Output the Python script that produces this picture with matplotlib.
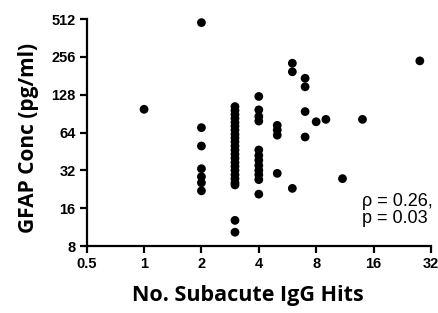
import matplotlib
matplotlib.use("Agg")
import matplotlib.pyplot as plt
from matplotlib.ticker import FixedLocator, FixedFormatter, NullLocator

# IgG hits (x) and GFAP concentration (y)
hits_1 = [1]
gfap_1 = [98]
hits_2 = [2] * 7
gfap_2 = [480, 70, 50, 33, 28.5, 25.5, 22]
hits_3 = [3] * 21
gfap_3 = [103, 96, 89, 83, 77, 72, 67, 62, 58, 54, 50, 46.5, 43, 40, 37, 34.5, 32,
          29.5, 27.5, 25.5, 24.5]
hits_3_low = [3, 3]
gfap_3_low = [12.8, 10.3]
hits_4 = [4] * 12
gfap_4 = [124, 97, 86, 79, 46.5, 42, 38.5, 35, 32, 29.5, 27, 20.7]
hits_5 = [5] * 4
gfap_5 = [73, 67, 61, 30.3]
hits_6 = [6] * 3
gfap_6 = [228, 195, 23]
hits_7 = [7] * 4
gfap_7 = [173, 148, 94, 59]
hits_rest = [8, 9, 11, 14, 28]
gfap_rest = [78, 81.5, 27.5, 81.5, 238]

x_ticks = [0.5, 1, 2, 4, 8, 16, 32]
x_labels = ["0.5", "1", "2", "4", "8", "16", "32"]
y_ticks = [8, 16, 32, 64, 128, 256, 512]
y_labels = ["8", "16", "32", "64", "128", "256", "512"]

x = hits_1 + hits_2 + hits_3 + hits_3_low + hits_4 + hits_5 + hits_6 + hits_7 + hits_rest
y = gfap_1 + gfap_2 + gfap_3 + gfap_3_low + gfap_4 + gfap_5 + gfap_6 + gfap_7 + gfap_rest

fig = plt.figure(figsize=(4.39, 3.13), dpi=100)
ax = fig.add_axes([0.1975, 0.214, 0.784, 0.725])

ax.scatter(x, y, s=40, color="black", edgecolors="none", clip_on=False, zorder=3)

ax.set_xscale("log", base=2)
ax.set_yscale("log", base=2)
ax.set_xlim(0.5, 32)
ax.set_ylim(8, 512)

ax.xaxis.set_major_locator(FixedLocator(x_ticks))
ax.xaxis.set_major_formatter(FixedFormatter(x_labels))
ax.xaxis.set_minor_locator(NullLocator())
ax.yaxis.set_major_locator(FixedLocator(y_ticks))
ax.yaxis.set_major_formatter(FixedFormatter(y_labels))
ax.yaxis.set_minor_locator(NullLocator())

for side in ["top", "right"]:
    ax.spines[side].set_visible(False)
for side in ["left", "bottom"]:
    ax.spines[side].set_linewidth(1.6)

ax.tick_params(axis="both", which="major", length=5, width=1.6, pad=3, direction="out")
for lbl in ax.get_xticklabels() + ax.get_yticklabels():
    lbl.set_fontfamily("Liberation Sans")
    lbl.set_fontweight("bold")
    lbl.set_fontsize(10.5)

ax.set_xlabel("No. Subacute IgG Hits", fontfamily="Open Sans", fontweight="bold",
              fontsize=15.5, labelpad=10)
ax.set_ylabel("GFAP Conc (pg/ml)", fontfamily="Open Sans", fontweight="bold",
              fontsize=15, labelpad=8.5)
ax.xaxis.label.set_x(0.467)
ax.yaxis.label.set_y(0.478)

ax.text(0.80, 0.085, "\u03c1 = 0.26,\np = 0.03", transform=ax.transAxes,
        fontfamily="Liberation Sans", fontsize=13, ha="left", va="bottom",
        linespacing=1.0)

fig.savefig("out.png", dpi=100)
